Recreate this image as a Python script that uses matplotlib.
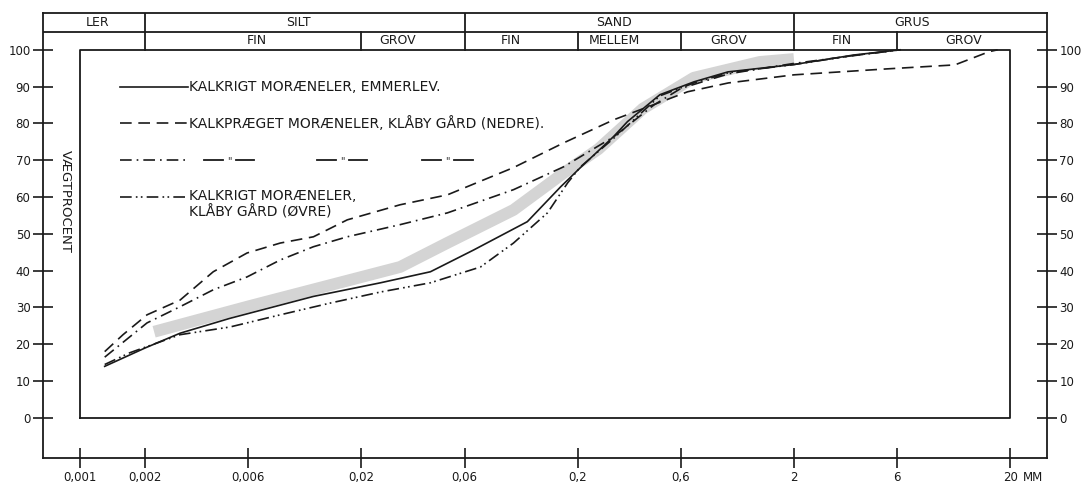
import matplotlib
matplotlib.use("Agg")
import matplotlib.pyplot as plt
import numpy as np
from matplotlib.ticker import NullLocator

# grain size (mm) / percent passing
solid_d = [0.0013, 0.002, 0.0029, 0.0049, 0.012, 0.0245, 0.0417, 0.066, 0.117, 0.167,
           0.206, 0.294, 0.34, 0.48, 0.69, 0.99, 2.0, 3.8, 6.2]
solid_v = [14, 19, 23, 27, 33, 36.7, 39.7, 45.6, 53.3, 62.8,
           68, 76.5, 80.5, 87.8, 91.3, 94, 96, 98.6, 100]

band_d = [0.0022, 0.0061, 0.0302, 0.0498, 0.101, 0.172, 0.249, 0.352, 0.40, 0.688, 1.39, 2.0]
band_v = [23.4, 30.4, 41, 47.5, 56.5, 66.5, 73, 81, 84, 92.4, 96.7, 97.5]

dashed_d = [0.0013, 0.00158, 0.00204, 0.0029, 0.00413, 0.00592, 0.00843, 0.012, 0.0172,
            0.0302, 0.05, 0.101, 0.172, 0.294, 0.645, 0.995, 2.0, 5.33, 11.1, 16.0, 17.5]
dashed_v = [18, 22.6, 28, 32, 39.7, 44.8, 47.5, 49.2, 53.8,
            57.9, 60.6, 68, 74.7, 81, 88.6, 91, 93.2, 94.8, 95.9, 99.5, 100]

dashdot_d = [0.0013, 0.00204, 0.0029, 0.00413, 0.00592, 0.00843, 0.012, 0.0172, 0.0302,
             0.05, 0.101, 0.172, 0.294, 0.45, 0.6, 1.0, 2.0, 4.0, 6.2]
dashdot_v = [16.5, 25.8, 30.2, 34.8, 38.3, 42.9, 46.5, 49.2, 52.5,
             55.7, 62, 68.2, 76.4, 85, 89.5, 93.5, 96.3, 98.6, 100]

dd2_d = [0.0013, 0.0017, 0.0029, 0.00494, 0.00843, 0.01437, 0.0245, 0.0417, 0.0711, 0.101,
         0.145, 0.18, 0.206, 0.294, 0.48, 0.69, 1.0, 2.0, 3.8, 6.2]
dd2_v = [14.5, 17.7, 22.6, 24.7, 28, 31.2, 34.2, 36.7, 41, 47.5,
         55.7, 63.9, 68.2, 76, 87.5, 91, 93.8, 96, 98.5, 100]

xticks = [0.001, 0.002, 0.006, 0.02, 0.06, 0.2, 0.6, 2, 6, 20]
xticklabels = ["0,001", "0,002", "0,006", "0,02", "0,06", "0,2", "0,6", "2", "6", "20"]
yticks = list(range(0, 101, 10))

# header cells
main_edges = [0.002, 0.06, 2]
sub_edges = [0.02, 0.2, 0.6, 6]
main_labels = ["LER", "SILT", "SAND", "GRUS"]
main_pos = [0.0012, 0.0102, 0.294, 7.03]
sub_labels = ["FIN", "GROV", "FIN", "MELLEM", "GROV", "FIN", "GROV"]
sub_pos = [0.00659, 0.0294, 0.098, 0.296, 1.0, 3.33, 12.2]

legend_text = ["KALKRIGT MORÆNELER, EMMERLEV.",
               "KALKPRÆGET MORÆNELER, KLÅBY GÅRD (NEDRE).",
               None,
               "KALKRIGT MORÆNELER,\nKLÅBY GÅRD (ØVRE)"]

XMIN, XMAX = 0.000674, 29.6
YMIN, YMAX = -10.9, 110.0
YMID = 104.9
k = "#1a1a1a"
lw_frame = 1.3

fig = plt.figure(figsize=(10.81, 4.83), dpi=100)
ax = fig.add_axes([43 / 1081, 25 / 483, 1004 / 1081, 445 / 483])
ax.set_xscale("log")
ax.set_xlim(XMIN, XMAX)
ax.set_ylim(YMIN, YMAX)
for s in ax.spines.values():
    s.set_linewidth(lw_frame)
    s.set_color(k)

# inner plot frame
x0, x1 = xticks[0], xticks[-1]
ax.plot([x0, x1, x1, x0, x0], [0, 0, 100, 100, 0], color=k, lw=lw_frame, zorder=3)
# header lines
ax.plot([XMIN, XMAX], [YMID, YMID], color=k, lw=lw_frame)
for e in main_edges:
    ax.plot([e, e], [100, YMAX], color=k, lw=lw_frame)
for e in sub_edges:
    ax.plot([e, e], [100, YMID], color=k, lw=lw_frame)
for lab, p in zip(main_labels, main_pos):
    ax.text(p, (YMID + YMAX) / 2, lab, ha="center", va="center", fontsize=9, color=k)
for lab, p in zip(sub_labels, sub_pos):
    ax.text(p, (100 + YMID) / 2, lab, ha="center", va="center", fontsize=9, color=k)

# curves
ax.plot(band_d, band_v, color="#d4d4d4", lw=8.5, solid_capstyle="butt", zorder=1)
ax.plot(solid_d, solid_v, color=k, lw=1.2, zorder=2)
ax.plot(dashed_d, dashed_v, color=k, lw=1.2, linestyle=(0, (7, 4)), zorder=2)
ax.plot(dashdot_d, dashdot_v, color=k, lw=1.2, linestyle=(0, (7, 3, 1, 3)), zorder=2)
ax.plot(dd2_d, dd2_v, color=k, lw=1.2, linestyle=(0, (7, 2.5, 1, 2, 1, 2.5)), zorder=2)

# legend drawn by hand
styles = ["-", (0, (7, 4)), (0, (7, 3, 1, 3)), (0, (7, 2.5, 1, 2, 1, 2.5))]
rows = [90, 80, 70, 60]
lx0, lx1 = 0.00153, 0.00316
for st, r, t in zip(styles, rows, legend_text):
    ax.plot([lx0, lx1], [r, r], color=k, lw=1.2, linestyle=st)
    if t is None:
        continue
    if "\n" in t:
        ax.text(0.0032, r + 2.2, t, ha="left", va="top", fontsize=10, color=k,
                linespacing=1.2)
    else:
        ax.text(0.0032, r, t, ha="left", va="center", fontsize=10, color=k)
# ditto marks for row 3
for c in [0.0049, 0.0163, 0.05]:
    ax.plot([c * 10 ** -0.116, c * 10 ** -0.03], [70, 70], color=k, lw=1.3)
    ax.plot([c * 10 ** 0.03, c * 10 ** 0.116], [70, 70], color=k, lw=1.3)
    ax.text(c, 69.8, '"', ha="center", va="center", fontsize=7, color=k)

ax.text(0.000853, 58.7, "VÆGTPROCENT", rotation=270, ha="center", va="center",
        fontsize=9.5, color=k)

# ticks
ax.xaxis.set_minor_locator(NullLocator())
ax.set_xticks(xticks)
ax.set_xticklabels(xticklabels)
ax.set_yticks(yticks)
ax.tick_params(axis="x", direction="inout", length=15, width=1.2, labelsize=8.5, pad=2, colors=k)
ax.tick_params(axis="y", direction="inout", length=14, width=1.2, labelsize=8.5, pad=2,
               left=True, right=True, labelleft=True, labelright=True, colors=k)
ax.text(x1 * 1.15, -16.3, "MM", ha="left", va="center", fontsize=8.5, color=k,
        clip_on=False)

fig.savefig("out.png", dpi=100, facecolor="white")
